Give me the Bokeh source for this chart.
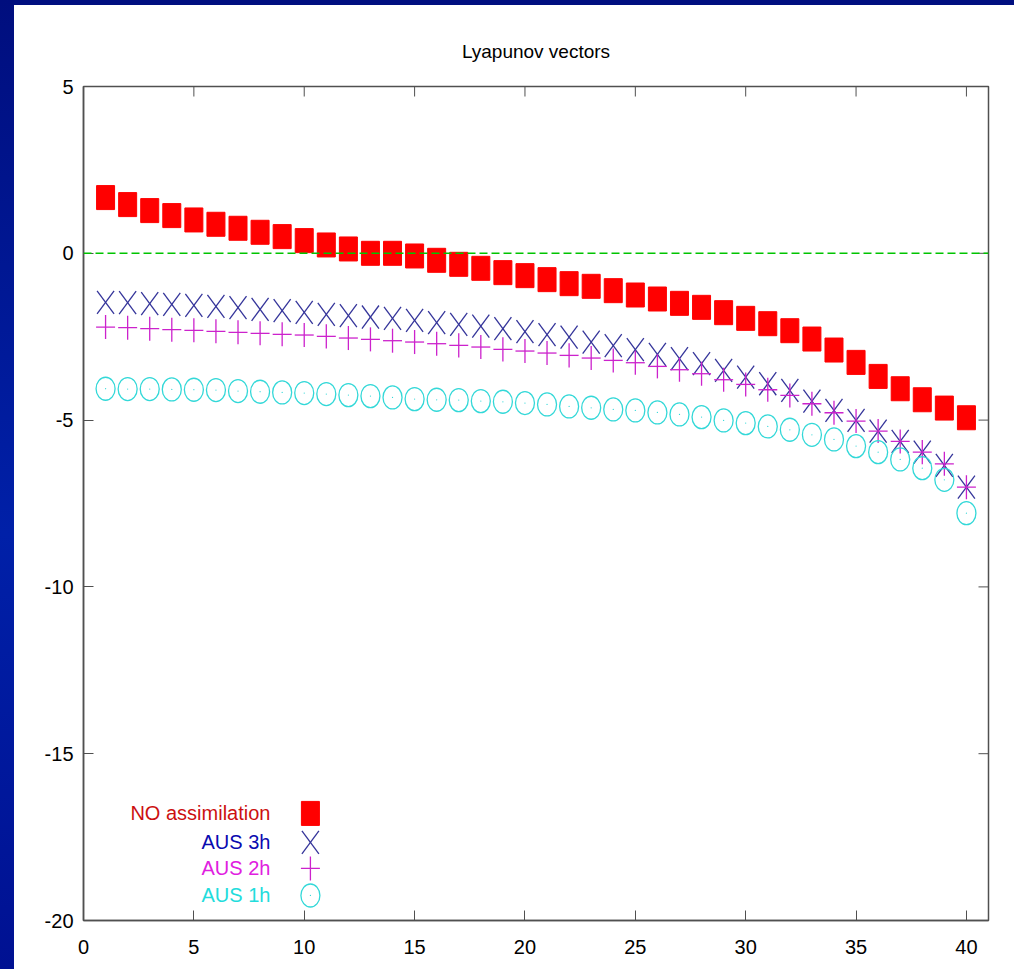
import numpy as np
from bokeh.plotting import figure
from bokeh.models import Range1d, FixedTicker, Span, Spacer, PrintfTickFormatter
from bokeh.layouts import row, column
from bokeh.core.properties import value
from bokeh.embed import file_html
from bokeh.resources import INLINE

# ---------------- data ----------------
index = list(range(1, 41))
no_assimilation = [1.67, 1.46, 1.28, 1.13, 1.00, 0.87, 0.75, 0.63, 0.50, 0.38,
                   0.25, 0.13, 0.00, 0.00, -0.08, -0.21, -0.33, -0.45, -0.58, -0.67,
                   -0.79, -0.91, -0.99, -1.12, -1.25, -1.37, -1.50, -1.62, -1.78, -1.95,
                   -2.11, -2.32, -2.57, -2.90, -3.27, -3.69, -4.06, -4.39, -4.64, -4.93]
aus_3h = [-1.47, -1.48, -1.51, -1.53, -1.56, -1.59, -1.63, -1.68, -1.72, -1.77,
          -1.83, -1.87, -1.91, -1.95, -2.01, -2.08, -2.13, -2.18, -2.26, -2.35,
          -2.44, -2.51, -2.66, -2.77, -2.89, -3.03, -3.16, -3.31, -3.51, -3.71,
          -3.91, -4.11, -4.43, -4.71, -5.01, -5.33, -5.64, -5.96, -6.36, -7.01]
aus_2h = [-2.21, -2.23, -2.26, -2.29, -2.31, -2.34, -2.37, -2.40, -2.43, -2.45,
          -2.49, -2.54, -2.58, -2.62, -2.66, -2.71, -2.76, -2.81, -2.88, -2.93,
          -2.99, -3.06, -3.14, -3.21, -3.28, -3.39, -3.49, -3.61, -3.79, -3.93,
          -4.09, -4.26, -4.51, -4.78, -5.03, -5.33, -5.64, -5.96, -6.31, -7.01]
aus_1h = [-4.06, -4.07, -4.07, -4.08, -4.09, -4.10, -4.13, -4.15, -4.17, -4.19,
          -4.22, -4.25, -4.28, -4.32, -4.37, -4.39, -4.40, -4.43, -4.45, -4.49,
          -4.53, -4.59, -4.63, -4.68, -4.71, -4.77, -4.83, -4.91, -5.01, -5.09,
          -5.19, -5.29, -5.44, -5.58, -5.78, -5.96, -6.18, -6.44, -6.79, -7.79]
series_labels = ["NO assimilation", "AUS 3h", "AUS 2h", "AUS 1h"]
x_ticks = [0, 5, 10, 15, 20, 25, 30, 35, 40]
y_ticks = [-20, -15, -10, -5, 0, 5]
title_text = "Lyapunov vectors"
X_MIN, X_MAX = 0, 41
Y_MIN, Y_MAX = -20, 5

# ---------------- styles ----------------
FONT = "Liberation Sans"
RED = "#ff0000"
NAVY_MARK = "#34349a"
MAGENTA_MARK = "#cc22cc"
CYAN_MARK = "#33d8d8"
label_colors = ["#cc1010", "#0a0ab0", "#e020e0", "#22dcdc"]
AXIS_COLOR = "#505050"

p = figure(width=1000, height=964, output_backend="svg", toolbar_location=None,
           x_range=Range1d(X_MIN, X_MAX), y_range=Range1d(Y_MIN, Y_MAX),
           min_border_left=69, min_border_right=26, min_border_top=81, min_border_bottom=49,
           background_fill_color="white", border_fill_color="white")
p.xgrid.visible = False
p.ygrid.visible = False
p.outline_line_color = AXIS_COLOR
p.outline_line_width = 1.5

p.title.text = title_text
p.title.align = "center"
p.title.text_font = FONT
p.title.text_font_size = "19px"
p.title.text_font_style = "normal"
p.title.text_color = "black"
p.title.standoff = 50

xaxis = p.xaxis[0]
yaxis = p.yaxis[0]
xaxis.ticker = FixedTicker(ticks=x_ticks)
yaxis.ticker = FixedTicker(ticks=y_ticks)
for ax in [xaxis, yaxis]:
    ax.formatter = PrintfTickFormatter(format="%d")
    ax.axis_line_color = AXIS_COLOR
    ax.axis_line_width = 1.5
    ax.major_tick_line_color = AXIS_COLOR
    ax.major_tick_line_width = 1
    ax.major_tick_in = 10
    ax.major_tick_out = 0
    ax.minor_tick_line_color = None
    ax.major_label_text_font = FONT
    ax.major_label_text_font_size = "20px"
    ax.major_label_text_color = "black"
xaxis.major_label_standoff = 19
yaxis.major_label_standoff = 10

# mirrored inward ticks on top and right (dash markers clipped by the frame)
p.scatter(x=x_ticks, y=[Y_MAX] * len(x_ticks), marker="dash", angle=np.pi / 2,
          size=20, line_color=AXIS_COLOR, line_width=1)
p.scatter(x=[X_MAX] * len(y_ticks), y=y_ticks, marker="dash",
          size=20, line_color=AXIS_COLOR, line_width=1)

# zero line
p.add_layout(Span(location=0, dimension="width", line_color="#00c400",
                  line_dash="8 4", line_width=1.4))

xs = np.array(index, dtype=float)

# NO assimilation: filled squares (taller than wide)
p.rect(x=xs, y=no_assimilation, width=18, height=24, width_units="screen",
       height_units="screen", fill_color=RED, line_color=RED)

# AUS 3h: x crosses
hx, hy = 0.385, 0.345
y3 = np.array(aus_3h)
p.segment(x0=xs - hx, y0=y3 - hy, x1=xs + hx, y1=y3 + hy, line_color=NAVY_MARK, line_width=1.3)
p.segment(x0=xs - hx, y0=y3 + hy, x1=xs + hx, y1=y3 - hy, line_color=NAVY_MARK, line_width=1.3)

# AUS 2h: plus signs
px_, py_ = 0.43, 0.36
y2 = np.array(aus_2h)
p.segment(x0=xs - px_, y0=y2, x1=xs + px_, y1=y2, line_color=MAGENTA_MARK, line_width=1.3)
p.segment(x0=xs, y0=y2 - py_, x1=xs, y1=y2 + py_, line_color=MAGENTA_MARK, line_width=1.3)

# AUS 1h: open circles with centre dot
p.ellipse(x=xs, y=aus_1h, width=19, height=23, width_units="screen", height_units="screen",
          fill_color=None, line_color=CYAN_MARK, line_width=1.3)
p.scatter(x=xs, y=aus_1h, marker="dot", size=5, color=CYAN_MARK)

# legend (labels right-aligned, sample to the right)
leg_text_x = 8.47
leg_mark_x = 10.28
leg_y = [-16.79, -17.66, -18.44, -19.25]
p.text(x=[leg_text_x] * 4, y=leg_y, text=series_labels, text_color=label_colors,
       text_align="right", text_baseline="middle", text_font=value(FONT),
       text_font_size="20px")
p.rect(x=[leg_mark_x], y=[leg_y[0]], width=18, height=24, width_units="screen",
       height_units="screen", fill_color=RED, line_color=RED)
lx = np.array([leg_mark_x])
ly = np.array([leg_y[1]])
p.segment(x0=lx - hx, y0=ly - hy, x1=lx + hx, y1=ly + hy, line_color=NAVY_MARK, line_width=1.3)
p.segment(x0=lx - hx, y0=ly + hy, x1=lx + hx, y1=ly - hy, line_color=NAVY_MARK, line_width=1.3)
ly2 = np.array([leg_y[2]])
p.segment(x0=lx - px_, y0=ly2, x1=lx + px_, y1=ly2, line_color=MAGENTA_MARK, line_width=1.3)
p.segment(x0=lx, y0=ly2 - py_, x1=lx, y1=ly2 + py_, line_color=MAGENTA_MARK, line_width=1.3)
p.ellipse(x=[leg_mark_x], y=[leg_y[3]], width=19, height=23, width_units="screen",
          height_units="screen", fill_color=None, line_color=CYAN_MARK, line_width=1.3)
p.scatter(x=[leg_mark_x], y=[leg_y[3]], marker="dot", size=5, color=CYAN_MARK)

left_band = Spacer(width=14, height=969,
                   styles={"background": "linear-gradient(to bottom, #000e7e 0%, #0020a8 55%, #001192 100%)"})
top_band = Spacer(width=1000, height=5, styles={"background": "#000f80"})
layout = row(left_band, column(top_band, p))

open("out.html", "w").write(file_html(layout, INLINE))
